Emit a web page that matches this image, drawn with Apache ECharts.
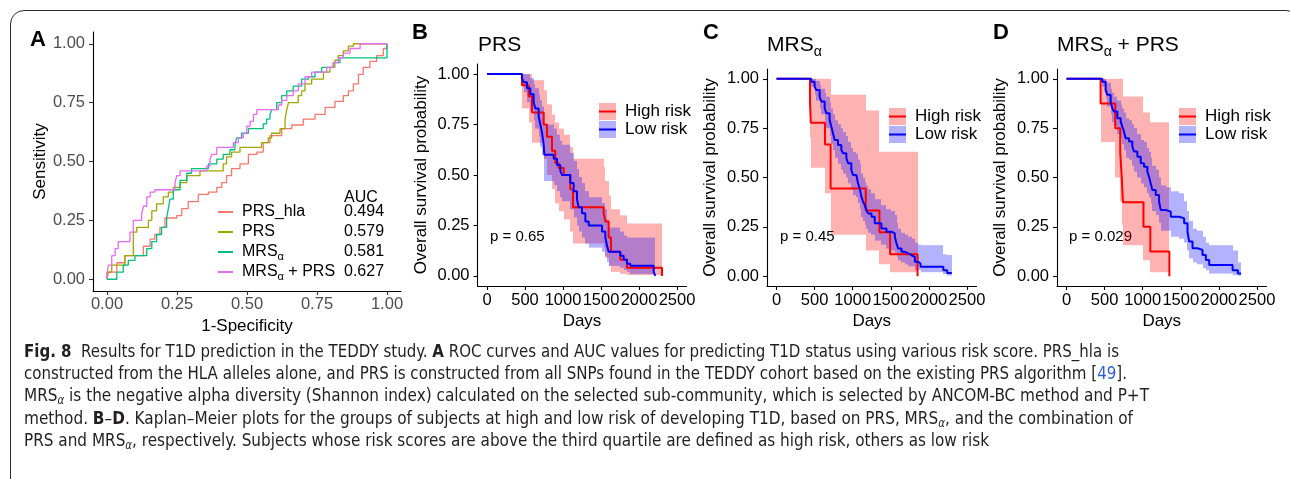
<!DOCTYPE html>
<html>
<head>
<meta charset="utf-8">
<script src="https://cdn.jsdelivr.net/npm/echarts@6.0.0/dist/echarts.min.js"></script>
<style>
  html, body { margin: 0; padding: 0; background: #fff; }
  #wrap { position: relative; width: 1290px; height: 479px; overflow: hidden; }
  #chart { position: absolute; left: 0; top: 0; width: 1290px; height: 479px; }
  #frame { position: absolute; left: 10px; top: 10px; width: 1290px; height: 500px; border: 1.3px solid #2b2b2b; border-radius: 14px; box-sizing: border-box; pointer-events: none; }
  .cap { position: absolute; left: 24px; white-space: nowrap; font-family: 'Liberation Sans Narrow', 'DejaVu Sans Condensed', 'Liberation Sans', sans-serif; font-size: 18px; line-height: 22px; color: #231f20; transform-origin: 0 50%; }
  .cap sub { font-size: 12px; vertical-align: -3px; line-height: 0; }
  .ref { color: #2f5fd0; }
</style>
</head>
<body>
<div id="wrap">
  <div id="chart"></div>
  <div id="frame"></div>
  <div class="cap" style="top:340px"><b>Fig. 8</b>&nbsp; Results for T1D prediction in the TEDDY study. <b>A</b> ROC curves and AUC values for predicting T1D status using various risk score. PRS_hla is</div>
  <div class="cap" style="top:362px">constructed from the HLA alleles alone, and PRS is constructed from all SNPs found in the TEDDY cohort based on the existing PRS algorithm [<span class="ref">49</span>].</div>
  <div class="cap" style="top:384px">MRS<sub><i>α</i></sub> is the negative alpha diversity (Shannon index) calculated on the selected sub-community, which is selected by ANCOM-BC method and P+T</div>
  <div class="cap" style="top:407px">method. <b>B</b>–<b>D</b>. Kaplan–Meier plots for the groups of subjects at high and low risk of developing T1D, based on PRS, MRS<sub><i>α</i></sub>, and the combination of</div>
  <div class="cap" style="top:429px">PRS and MRS<sub><i>α</i></sub>, respectively. Subjects whose risk scores are above the third quartile are defined as high risk, others as low risk</div>
</div>
<script>
// ---- panel A: ROC curves, [1-specificity, sensitivity]
const rocNames = ['PRS_hla', 'PRS', 'MRSα', 'MRSα + PRS'];
const rocAuc = ['0.494', '0.579', '0.581', '0.627'];
const rocPrsHla = [[0,0],[0.005,0.03],[0.035,0.07],[0.064,0.10],[0.130,0.14],[0.154,0.17],[0.171,0.19],[0.189,0.22],[0.207,0.26],[0.249,0.27],[0.267,0.30],[0.290,0.33],[0.326,0.36],[0.362,0.37],[0.392,0.39],[0.410,0.41],[0.427,0.44],[0.445,0.47],[0.475,0.49],[0.505,0.53],[0.535,0.54],[0.558,0.58],[0.582,0.61],[0.624,0.64],[0.660,0.655],[0.701,0.68],[0.743,0.70],[0.779,0.73],[0.814,0.755],[0.844,0.78],[0.862,0.80],[0.880,0.83],[0.898,0.87],[0.915,0.90],[0.939,0.925],[0.963,0.95],[0.987,0.98],[1,1]];
const rocPrs = [[0,0],[0,0.03],[0.017,0.06],[0.064,0.10],[0.094,0.20],[0.106,0.22],[0.148,0.25],[0.160,0.29],[0.177,0.32],[0.201,0.35],[0.219,0.37],[0.237,0.39],[0.261,0.41],[0.285,0.44],[0.332,0.46],[0.415,0.49],[0.427,0.52],[0.445,0.54],[0.475,0.56],[0.552,0.58],[0.576,0.60],[0.588,0.62],[0.618,0.64],[0.636,0.68],[0.642,0.72],[0.648,0.75],[0.683,0.78],[0.695,0.80],[0.707,0.83],[0.731,0.85],[0.773,0.88],[0.796,0.90],[0.814,0.93],[0.826,0.95],[0.844,0.97],[0.862,0.99],[0.880,1],[1,1]];
const rocMrs = [[0,0],[0.035,0.03],[0.058,0.06],[0.076,0.08],[0.100,0.10],[0.142,0.13],[0.160,0.16],[0.177,0.19],[0.195,0.22],[0.213,0.26],[0.219,0.30],[0.225,0.34],[0.237,0.38],[0.261,0.42],[0.285,0.45],[0.302,0.47],[0.362,0.49],[0.392,0.51],[0.415,0.53],[0.439,0.55],[0.457,0.57],[0.463,0.60],[0.481,0.62],[0.505,0.64],[0.558,0.66],[0.570,0.68],[0.582,0.70],[0.588,0.72],[0.606,0.75],[0.624,0.78],[0.642,0.80],[0.665,0.82],[0.695,0.85],[0.719,0.86],[0.743,0.88],[0.767,0.90],[0.808,0.92],[0.832,0.94],[0.880,0.94],[1,1]];
const rocMrsPrs = [[0,0],[0,0.02],[0.005,0.06],[0.017,0.10],[0.029,0.13],[0.040,0.16],[0.082,0.20],[0.094,0.25],[0.124,0.28],[0.130,0.31],[0.142,0.35],[0.154,0.37],[0.171,0.38],[0.243,0.41],[0.249,0.44],[0.261,0.46],[0.356,0.48],[0.368,0.51],[0.374,0.53],[0.392,0.56],[0.451,0.58],[0.469,0.60],[0.487,0.62],[0.499,0.65],[0.511,0.67],[0.523,0.70],[0.535,0.72],[0.612,0.74],[0.624,0.76],[0.642,0.78],[0.665,0.80],[0.683,0.83],[0.707,0.86],[0.731,0.88],[0.785,0.90],[0.808,0.92],[0.826,0.94],[0.844,0.96],[0.868,0.98],[0.904,1],[1,1]];
const unitTicks = [0, 0.25, 0.5, 0.75, 1];
const dayTicks = [0, 500, 1000, 1500, 2000, 2500];

// ---- panel B: PRS
const prsHighDays = [0, 460, 548, 592, 746, 789, 855, 899, 943, 1009, 1096, 1132, 1535, 1557, 1601, 1632, 1754, 1842, 2303];
const prsHighSurv = [1, 0.945, 0.89, 0.81, 0.75, 0.69, 0.62, 0.56, 0.535, 0.50, 0.43, 0.34, 0.31, 0.27, 0.19, 0.12, 0.08, 0.04, 0];
const prsHighLower = [1, 0.83, 0.76, 0.66, 0.58, 0.50, 0.43, 0.36, 0.32, 0.28, 0.22, 0.16, 0.14, 0.09, 0.05, 0.02, 0.01, 0.005, 0.005];
const prsHighUpper = [1, 1, 1, 0.97, 0.92, 0.85, 0.80, 0.76, 0.73, 0.70, 0.64, 0.58, 0.54, 0.47, 0.40, 0.33, 0.30, 0.26, 0.26];
const prsLowDays = [0, 460, 482, 526, 570, 614, 636, 680, 702, 724, 746, 754, 877, 921, 965, 987, 1096, 1140, 1184, 1206, 1250, 1294, 1338, 1513, 1557, 1579, 1601, 1754, 1798, 1842, 1886, 2193, 2215];
const prsLowSurv = [1, 0.98, 0.96, 0.93, 0.90, 0.86, 0.83, 0.79, 0.75, 0.71, 0.65, 0.60, 0.58, 0.55, 0.52, 0.50, 0.46, 0.42, 0.38, 0.34, 0.31, 0.27, 0.25, 0.22, 0.19, 0.15, 0.12, 0.10, 0.08, 0.06, 0.05, 0.02, 0];
const prsLowLower = [1, 0.94, 0.91, 0.86, 0.82, 0.77, 0.73, 0.69, 0.64, 0.60, 0.53, 0.47, 0.45, 0.42, 0.39, 0.37, 0.33, 0.29, 0.25, 0.22, 0.19, 0.16, 0.14, 0.12, 0.10, 0.07, 0.05, 0.04, 0.03, 0.02, 0.01, 0.003, 0.003];
const prsLowUpper = [1, 1, 1, 1, 0.98, 0.95, 0.93, 0.90, 0.87, 0.84, 0.79, 0.75, 0.73, 0.70, 0.67, 0.65, 0.61, 0.57, 0.53, 0.49, 0.46, 0.42, 0.39, 0.36, 0.33, 0.28, 0.24, 0.22, 0.20, 0.19, 0.19, 0.19, 0.19];

// ---- panel C: MRS alpha
const mrsHighDays = [0, 439, 450, 636, 710, 1171, 1351, 1491, 1851];
const mrsHighSurv = [1, 0.889, 0.778, 0.667, 0.444, 0.333, 0.222, 0.111, 0];
const mrsHighLower = [1, 0.70, 0.55, 0.42, 0.21, 0.13, 0.06, 0.02, 0.02];
const mrsHighUpper = [1, 1, 1, 1, 0.92, 0.84, 0.63, 0.63, 0.63];
const mrsLowDays = [0, 456, 500, 522, 566, 588, 632, 654, 697, 719, 741, 763, 807, 851, 873, 917, 939, 982, 1004, 1048, 1070, 1092, 1114, 1136, 1158, 1180, 1202, 1246, 1289, 1377, 1443, 1509, 1553, 1575, 1596, 1640, 1684, 1728, 1772, 1816, 1860, 1890, 2190, 2240, 2300];
const mrsLowSurv = [1, 0.986, 0.96, 0.944, 0.91, 0.885, 0.851, 0.826, 0.792, 0.758, 0.724, 0.69, 0.665, 0.64, 0.623, 0.598, 0.572, 0.538, 0.513, 0.504, 0.47, 0.445, 0.403, 0.377, 0.36, 0.335, 0.318, 0.301, 0.268, 0.242, 0.225, 0.217, 0.2, 0.166, 0.14, 0.123, 0.115, 0.106, 0.098, 0.073, 0.064, 0.047, 0.03, 0.016, 0.016];
const mrsLowLower = [1, 0.96, 0.92, 0.89, 0.85, 0.82, 0.78, 0.75, 0.71, 0.67, 0.64, 0.60, 0.57, 0.54, 0.52, 0.50, 0.47, 0.44, 0.41, 0.40, 0.37, 0.34, 0.30, 0.28, 0.26, 0.24, 0.22, 0.21, 0.18, 0.16, 0.14, 0.13, 0.12, 0.10, 0.08, 0.07, 0.06, 0.05, 0.05, 0.03, 0.03, 0.02, 0.01, 0.003, 0.003];
const mrsLowUpper = [1, 1, 1, 0.99, 0.97, 0.95, 0.93, 0.91, 0.88, 0.85, 0.82, 0.79, 0.77, 0.75, 0.73, 0.71, 0.68, 0.65, 0.63, 0.62, 0.59, 0.57, 0.52, 0.50, 0.48, 0.46, 0.44, 0.42, 0.39, 0.36, 0.34, 0.33, 0.31, 0.27, 0.24, 0.22, 0.21, 0.20, 0.19, 0.17, 0.16, 0.157, 0.11, 0.107, 0.107];

// ---- panel D: MRS alpha + PRS
const comboHighDays = [0, 447, 640, 705, 725, 740, 1010, 1100, 1350];
const comboHighSurv = [1, 0.875, 0.75, 0.625, 0.5, 0.375, 0.25, 0.125, 0];
const comboHighLower = [1, 0.68, 0.50, 0.38, 0.26, 0.156, 0.08, 0.02, 0.02];
const comboHighUpper = [1, 1, 1, 1, 1, 0.91, 0.83, 0.78, 0.78];
const comboLowDays = [0, 469, 513, 535, 579, 601, 623, 667, 711, 732, 754, 776, 820, 864, 886, 930, 974, 1017, 1061, 1083, 1105, 1127, 1171, 1215, 1237, 1303, 1368, 1478, 1544, 1588, 1610, 1654, 1719, 1785, 1829, 1873, 2180, 2250, 2290];
const comboLowSurv = [1, 0.986, 0.944, 0.919, 0.885, 0.851, 0.834, 0.80, 0.783, 0.758, 0.733, 0.699, 0.682, 0.657, 0.632, 0.605, 0.572, 0.555, 0.53, 0.504, 0.47, 0.437, 0.411, 0.377, 0.335, 0.327, 0.301, 0.293, 0.268, 0.225, 0.175, 0.141, 0.133, 0.107, 0.082, 0.056, 0.03, 0.013, 0.013];
const comboLowLower = [1, 0.96, 0.90, 0.86, 0.82, 0.78, 0.76, 0.72, 0.70, 0.67, 0.64, 0.60, 0.59, 0.56, 0.53, 0.50, 0.47, 0.45, 0.42, 0.40, 0.37, 0.33, 0.31, 0.27, 0.23, 0.23, 0.20, 0.19, 0.17, 0.13, 0.09, 0.07, 0.06, 0.04, 0.03, 0.013, 0.005, 0.002, 0.002];
const comboLowUpper = [1, 1, 0.99, 0.98, 0.95, 0.93, 0.91, 0.89, 0.87, 0.85, 0.83, 0.80, 0.79, 0.77, 0.75, 0.72, 0.69, 0.68, 0.65, 0.63, 0.60, 0.56, 0.54, 0.50, 0.46, 0.45, 0.43, 0.42, 0.38, 0.33, 0.28, 0.24, 0.23, 0.20, 0.17, 0.157, 0.13, 0.07, 0.07];

const pValues = ['p = 0.65', 'p = 0.45', 'p = 0.029'];

const FONT = "'Liberation Sans', Arial, sans-serif";
const rocColors = ['#F8766D', '#A3A500', '#00BF7D', '#E76BF3'];
const RED = '#ff0000', BLUE = '#0000ff';
const RED_FILL = 'rgba(255,0,0,0.3)', BLUE_FILL = 'rgba(0,0,255,0.3)';

const chart = echarts.init(document.getElementById('chart'));

const grids = [
  { left: 93, top: 32, width: 308, height: 259 },
  { left: 477.5, top: 64, width: 209, height: 222 },
  { left: 767, top: 69, width: 209.5, height: 217 },
  { left: 1057, top: 69, width: 209.5, height: 217 }
];

function axis(gi, opts) {
  const ticks = opts.ticks;
  return {
    gridIndex: gi, type: 'value', min: opts.min, max: opts.max,
    axisLine: { onZero: false, lineStyle: { color: '#000', width: 1.1 } },
    axisTick: { customValues: ticks, length: 4, lineStyle: { color: opts.tickColor, width: 1.1 } },
    axisLabel: { customValues: ticks, formatter: opts.fmt, color: opts.labelColor, fontSize: 16.5, margin: opts.margin, fontFamily: FONT },
    splitLine: { show: false },
    name: opts.name, nameLocation: 'middle', nameGap: opts.nameGap,
    nameTextStyle: { fontSize: 17, color: '#000', fontFamily: FONT }
  };
}

const fmt2 = v => v.toFixed(2);
const xAxes = [axis(0, { min: -0.05, max: 1.05, ticks: unitTicks, fmt: fmt2, tickColor: '#333', labelColor: '#4d4d4d', margin: 5, name: '1-Specificity', nameGap: 23 })];
const yAxes = [axis(0, { min: -0.05, max: 1.05, ticks: unitTicks, fmt: fmt2, tickColor: '#333', labelColor: '#4d4d4d', margin: 8, name: 'Sensitivity', nameGap: 42 })];
for (let g = 1; g <= 3; g++) {
  xAxes.push(axis(g, { min: -125, max: 2625, ticks: dayTicks, fmt: v => String(v), tickColor: '#000', labelColor: '#000', margin: 6, name: 'Days', nameGap: 27 }));
  yAxes.push(axis(g, { min: -0.05, max: 1.05, ticks: unitTicks, fmt: fmt2, tickColor: '#000', labelColor: '#000', margin: 8, name: 'Overall survival probability', nameGap: 48 }));
}

const series = [];
[rocPrsHla, rocPrs, rocMrs, rocMrsPrs].forEach((pts, i) => {
  series.push({
    type: 'line', name: rocNames[i], xAxisIndex: 0, yAxisIndex: 0, step: 'end',
    symbol: 'none', data: pts, color: rocColors[i], lineStyle: { width: 1.3 }, silent: true
  });
});

function band(gi, name, days, lower, upper, fill) {
  const rows = days.slice(0, -1).map((d, i) => [d, lower[i], upper[i], days[i + 1]]);
  return {
    type: 'custom', name: name, xAxisIndex: gi, yAxisIndex: gi, clip: true, silent: true,
    itemStyle: { color: fill },
    encode: { x: [0, 3], y: [1, 2] },
    data: rows,
    renderItem: function (params, api) {
      const a = api.coord([api.value(0), api.value(2)]);
      const b = api.coord([api.value(3), api.value(1)]);
      const x0 = Math.round(a[0]), x1 = Math.round(b[0]);
      return { type: 'rect', shape: { x: x0, y: a[1], width: x1 - x0, height: b[1] - a[1] }, style: { fill: fill } };
    }
  };
}

function km(gi, name, days, surv, color) {
  return {
    type: 'line', name: name, xAxisIndex: gi, yAxisIndex: gi, step: 'end', symbol: 'none',
    data: days.map((d, i) => [d, surv[i]]), color: color, lineStyle: { width: 2 }, silent: true
  };
}

const kmPanels = [
  [prsHighDays, prsHighSurv, prsHighLower, prsHighUpper, prsLowDays, prsLowSurv, prsLowLower, prsLowUpper],
  [mrsHighDays, mrsHighSurv, mrsHighLower, mrsHighUpper, mrsLowDays, mrsLowSurv, mrsLowLower, mrsLowUpper],
  [comboHighDays, comboHighSurv, comboHighLower, comboHighUpper, comboLowDays, comboLowSurv, comboLowLower, comboLowUpper]
];
kmPanels.forEach((p, k) => {
  const gi = k + 1;
  series.push(band(gi, 'High risk CI', p[0], p[2], p[3], RED_FILL));
  series.push(km(gi, 'High risk', p[0], p[1], RED));
  series.push(band(gi, 'Low risk CI', p[4], p[6], p[7], BLUE_FILL));
  series.push(km(gi, 'Low risk', p[4], p[5], BLUE));
});

const legends = [
  {
    orient: 'vertical', left: 218, top: 202, padding: 0, itemGap: 0, itemWidth: 15, itemHeight: 2,
    icon: 'rect', selectedMode: false, data: rocNames,
    formatter: n => n.replace('α', '{s|α}'),
    textStyle: { fontSize: 16, color: '#000', lineHeight: 20, fontFamily: FONT, padding: [0, 0, 0, 4],
      rich: { s: { fontSize: 11, lineHeight: 12, verticalAlign: 'bottom', fontFamily: FONT } } }
  },
  {
    orient: 'vertical', left: 338, top: 202, padding: 0, itemGap: 0, itemWidth: 1, itemHeight: 2,
    icon: 'none', selectedMode: false, data: rocNames,
    formatter: n => rocAuc[rocNames.indexOf(n)],
    textStyle: { fontSize: 16, color: '#000', lineHeight: 20, fontFamily: FONT }
  }
];
[[599, 103], [889, 108], [1179, 108]].forEach(pos => {
  legends.push({
    orient: 'vertical', left: pos[0], top: pos[1], padding: 0, itemGap: 1, itemWidth: 17, itemHeight: 17,
    icon: 'rect', selectedMode: false, data: ['High risk CI', 'Low risk CI'],
    formatter: n => n.replace(' CI', ''),
    textStyle: { fontSize: 17, color: '#000', lineHeight: 17, fontFamily: FONT, padding: [0, 0, 0, 4] }
  });
  legends.push({
    orient: 'vertical', left: pos[0], top: pos[1], padding: 0, itemGap: 1, itemWidth: 17, itemHeight: 2,
    icon: 'rect', selectedMode: false, data: ['High risk', 'Low risk'],
    textStyle: { fontSize: 17, color: 'rgba(0,0,0,0)', lineHeight: 17, fontFamily: FONT, padding: [0, 0, 0, 4] }
  });
});

function label(x, y, text, size, weight, rich) {
  return { type: 'text', x: x, y: y, silent: true,
    style: { text: text, fontSize: size, fontWeight: weight || 'normal', fontFamily: FONT, fill: '#000', verticalAlign: 'middle', rich: rich } };
}
const titleRich = { m: { fontSize: 21, lineHeight: 28, fontFamily: FONT }, s: { fontSize: 14, lineHeight: 14, verticalAlign: 'bottom', fontFamily: FONT } };
const graphic = [
  label(30, 40, 'A', 22, 'bold'),
  label(412, 33, 'B', 22, 'bold'),
  label(703, 33, 'C', 22, 'bold'),
  label(993, 33, 'D', 22, 'bold'),
  label(478, 45, 'PRS', 21),
  label(767, 45, '{m|MRS}{s|α}', 21, 'normal', titleRich),
  label(1057, 45, '{m|MRS}{s|α}{m| + PRS}', 21, 'normal', titleRich),
  label(344, 198, 'AUC', 16),
  label(490, 237, pValues[0], 15),
  label(780, 237, pValues[1], 15),
  label(1069, 237, pValues[2], 15)
];

chart.setOption({
  animation: false,
  textStyle: { fontFamily: FONT },
  grid: grids.map(g => Object.assign({ containLabel: false, outerBoundsMode: 'none' }, g)),
  xAxis: xAxes,
  yAxis: yAxes,
  legend: legends,
  graphic: graphic,
  series: series
});

// fit each caption line to its width in the figure
const capWidths = [1095, 1103, 1125, 1109, 965];
document.querySelectorAll('.cap').forEach((el, i) => {
  const w = el.getBoundingClientRect().width;
  el.style.transform = 'scaleX(' + (capWidths[i] / w) + ')';
});
</script>
</body>
</html>
